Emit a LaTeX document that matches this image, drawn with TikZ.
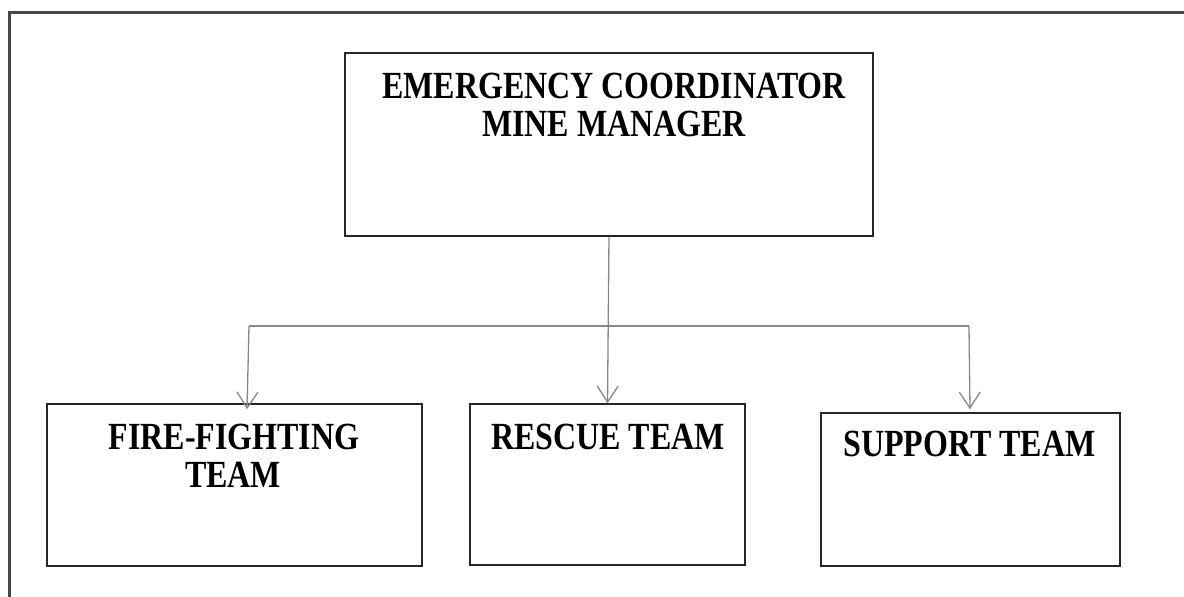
\documentclass[tikz,border=0pt]{standalone}
\usepackage{fontspec}
\setmainfont{Liberation Serif}
\usetikzlibrary{arrows.meta,calc}
\newcommand{\tallt}[1]{\scalebox{1}[1.2]{#1}}
\begin{document}
\begin{tikzpicture}[x=1pt,y=-1pt,
  frameline/.style={line width=3pt,draw=black!72},
  box/.style={draw=black!85,line width=1.6pt,rectangle,inner sep=0pt},
  lbl/.style={font=\bfseries\fontsize{32}{38}\selectfont,inner sep=0pt,anchor=base},
  conn/.style={draw=black!47,line width=1.3pt},
  arr/.style={conn,-{Straight Barb[length=16pt,width=21pt,line width=1.3pt]}}]
\useasboundingbox (0,0) rectangle (1184,597);
% outer frame (top and left edges only)
\coordinate (fa) at (9,12);
\coordinate (fb) at (1184,12);
\coordinate (fc) at (9,597);
\draw[frameline] (fb) -- (fa) -- (fc);
% boxes
\node[box,minimum width=528pt,minimum height=183pt] (top) at (609,144.5) {};
\node[box,minimum width=375pt,minimum height=162pt] (fire) at (234.5,485) {};
\node[box,minimum width=275pt,minimum height=161pt] (rescue) at (607.5,484.5) {};
\node[box,minimum width=299pt,minimum height=153pt] (support) at (970.5,489.5) {};
% labels
\node[lbl] (ttop1) at (614,98) {\tallt{EMERGENCY COORDINATOR}};
\node[lbl] (ttop2) at (614,136) {\tallt{MINE MANAGER}};
\node[lbl] (tfire1) at (234,449) {\tallt{FIRE-FIGHTING}};
\node[lbl] (tfire2) at (233,487) {\tallt{TEAM}};
\node[lbl] (tres) at (608,449) {\tallt{RESCUE TEAM}};
\node[lbl] (tsup) at (969.5,456) {\tallt{SUPPORT TEAM}};
% connectors
\coordinate (jl) at (249,326);
\coordinate (jr) at (969,326);
\coordinate (tl) at ($(fire.north -| jl)+(-2,6)$);
\coordinate (tr) at ($(support.north -| jr)+(1,-3)$);
\draw[conn] (jl) -- (jr);
\draw[arr] (top.south) -- (rescue.north);
\draw[arr] (jl) -- (tl);
\draw[arr] (jr) -- (tr);
\end{tikzpicture}
\end{document}
